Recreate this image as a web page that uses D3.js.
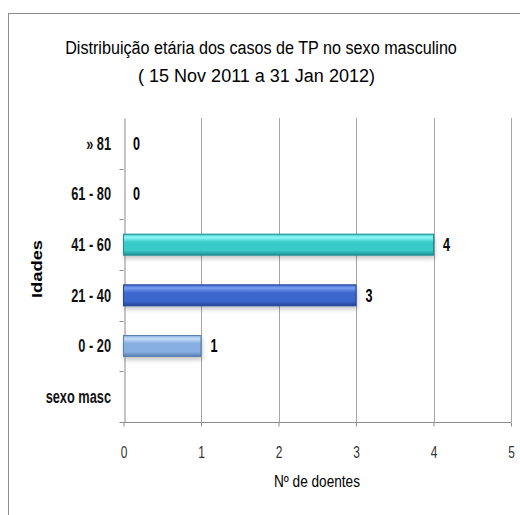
<!DOCTYPE html>
<html>
<head>
<meta charset="utf-8">
<script src="https://cdn.jsdelivr.net/npm/d3@7"></script>
<style>
  body { margin: 0; background: #fff; }
  svg { display: block; }
  text { font-family: "Liberation Sans", Arial, sans-serif; }
</style>
</head>
<body>
<svg id="chart" width="520" height="515"></svg>
<script>
// Age groups, drawn bottom to top
const categories = ["sexo masc", "0 - 20", "21 - 40", "41 - 60", "61 - 80", "» 81"];
const values = [null, 1, 3, 4, 0, 0];
const xTicks = [0, 1, 2, 3, 4, 5];
const titleLines = ["Distribuição etária dos casos de TP no sexo masculino", "( 15 Nov 2011 a 31 Jan 2012)"];

// bar fill per age group: [light, mid, dark]
const palette = {
  "0 - 20": ["#c4dcf7", "#86aee0", "#5a7fb0"],
  "21 - 40": ["#7aa0f0", "#3b66cc", "#23449a"],
  "41 - 60": ["#8ff8f8", "#38c9c9", "#1f8f94"]
};

// narrow the glyphs horizontally (condensed face look)
function condense(sel, k) {
  sel.each(function () {
    const w = this.getComputedTextLength();
    d3.select(this).attr("textLength", w * k).attr("lengthAdjust", "spacingAndGlyphs");
  });
}
function fitWidth(sel, w) {
  sel.attr("textLength", w).attr("lengthAdjust", "spacingAndGlyphs");
}

const svg = d3.select("#chart");
const W = 520, H = 515;
const margin = { left: 123.5, right: 9, top: 118, bottom: 93 };

// outer frame
svg.append("rect")
  .attr("x", 8.5).attr("y", 13.5)
  .attr("width", W + 10).attr("height", H + 10)
  .attr("fill", "#fff").attr("stroke", "#8c8c8c").attr("stroke-width", 1);

const x = d3.scaleLinear().domain([0, 5]).range([margin.left, W - margin.right]);
const y = d3.scaleBand().domain(categories.slice().reverse())
  .range([margin.top, H - margin.bottom]).paddingInner(0).paddingOuter(0);

// gradients
const defs = svg.append("defs");
Object.entries(palette).forEach(([k, c], i) => {
  const g = defs.append("linearGradient").attr("id", "g" + i)
    .attr("x1", 0).attr("y1", 0).attr("x2", 0).attr("y2", 1);
  g.append("stop").attr("offset", "0%").attr("stop-color", c[1]);
  g.append("stop").attr("offset", "15%").attr("stop-color", c[0]);
  g.append("stop").attr("offset", "38%").attr("stop-color", c[1]);
  g.append("stop").attr("offset", "78%").attr("stop-color", c[1]);
  g.append("stop").attr("offset", "100%").attr("stop-color", c[2]);
  palette[k].id = "g" + i;
});
const shadow = defs.append("filter").attr("id", "shadow")
  .attr("x", "-5%").attr("y", "-30%").attr("width", "115%").attr("height", "180%");
shadow.append("feGaussianBlur").attr("in", "SourceAlpha").attr("stdDeviation", 2);
shadow.append("feOffset").attr("dx", 1).attr("dy", 3).attr("result", "b");
shadow.append("feComponentTransfer").append("feFuncA").attr("type", "linear").attr("slope", 0.22);
const merge = shadow.append("feMerge");
merge.append("feMergeNode");
merge.append("feMergeNode").attr("in", "SourceGraphic");

// vertical gridlines
svg.append("g").selectAll("line").data(xTicks.filter(d => d > 0)).join("line")
  .attr("x1", d => Math.round(x(d)) + 0.5).attr("x2", d => Math.round(x(d)) + 0.5)
  .attr("y1", margin.top).attr("y2", H - margin.bottom)
  .attr("stroke", "#a6a6a6").attr("stroke-width", 1);

// x axis
const xAxis = svg.append("g")
  .attr("transform", `translate(0,${Math.round(H - margin.bottom) + 0.5})`)
  .call(d3.axisBottom(x).tickValues(xTicks).tickFormat(d3.format("d"))
    .tickSize(4).tickPadding(0).tickSizeOuter(0));
xAxis.select(".domain").attr("stroke", "#8c8c8c").attr("d", `M${margin.left - 4},0H${W - margin.right}`);
xAxis.selectAll(".tick line").attr("stroke", "#8c8c8c");
xAxis.selectAll(".tick text").attr("font-size", 17).attr("fill", "#333")
  .attr("dy", null).attr("y", 35);
condense(xAxis.selectAll(".tick text"), 0.7);

// y axis
const yAxis = svg.append("g")
  .attr("transform", `translate(${Math.round(margin.left) + 0.5},0)`)
  .call(d3.axisLeft(y).tickSize(0).tickPadding(13.5));
yAxis.select(".domain").attr("stroke", "#8c8c8c");
yAxis.selectAll(".tick text").attr("font-size", 17.5).attr("font-weight", "bold").attr("fill", "#111")
  .attr("dy", "0.37em");
condense(yAxis.selectAll(".tick text"), 0.73);
// category separators
svg.append("g").selectAll("line").data(categories.slice(0, -1)).join("line")
  .attr("x1", margin.left - 4).attr("x2", margin.left)
  .attr("y1", d => Math.round(y(d)) + 0.5).attr("y2", d => Math.round(y(d)) + 0.5)
  .attr("stroke", "#8c8c8c");

// bars
const barH = 21;
const data = categories.map((c, i) => ({ c, v: values[i] }));
svg.append("g").selectAll("rect")
  .data(data.filter(d => d.v > 0)).join("rect")
  .attr("x", x(0))
  .attr("y", d => y(d.c) + y.bandwidth() / 2 - barH / 2)
  .attr("width", d => x(d.v) - x(0))
  .attr("height", barH)
  .attr("fill", d => `url(#${palette[d.c].id})`)
  .attr("stroke", d => palette[d.c][2]).attr("stroke-width", 1)
  .attr("filter", "url(#shadow)");

// value labels
const vl = svg.append("g").selectAll("text")
  .data(data.filter(d => d.v !== null)).join("text")
  .attr("x", d => x(d.v) + 9.5)
  .attr("y", d => y(d.c) + y.bandwidth() / 2)
  .attr("dy", "0.37em")
  .attr("font-size", 17.5).attr("font-weight", "bold").attr("fill", "#000")
  .text(d => d.v);
condense(vl, 0.72);

// title: two centred lines, horizontally narrowed by a scale transform
const tt = svg.append("g").selectAll("text").data(titleLines).join("text")
  .attr("text-anchor", "middle")
  .attr("font-size", 19).attr("fill", "#000")
  .text(d => d);
tt.each(function (d, i) {
  const target = i ? 237 : 392;
  const k = target / this.getComputedTextLength();
  d3.select(this).attr("transform",
    `translate(${i ? 256.5 : 261},${i ? 82 : 53.5}) scale(${k},1)`);
});

// axis titles
const xt = svg.append("text")
  .attr("x", 317).attr("y", 487)
  .attr("text-anchor", "middle").attr("font-size", 16.5).attr("fill", "#000")
  .text("Nº de doentes");
fitWidth(xt, 86);
const yt = svg.append("text")
  .attr("transform", `translate(37,${269}) rotate(-90)`)
  .attr("dy", "0.36em").attr("text-anchor", "middle")
  .attr("font-size", 14.5).attr("font-weight", "bold").attr("fill", "#000")
  .text("Idades");
fitWidth(yt, 58);
</script>
</body>
</html>
